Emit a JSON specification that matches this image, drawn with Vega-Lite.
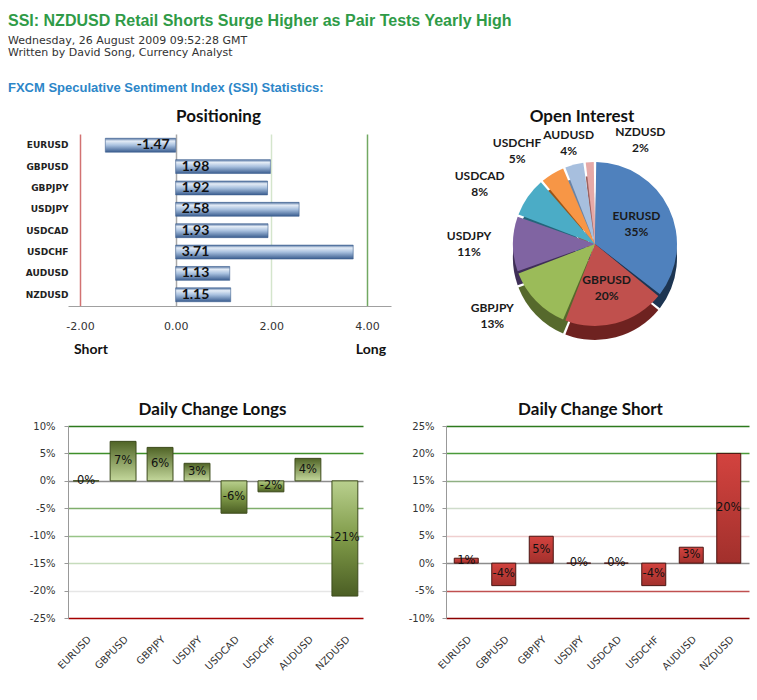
{
  "$schema": "https://vega.github.io/schema/vega-lite/v6.json",
  "background": "white",
  "padding": {"left": 8, "top": 13, "right": 4, "bottom": 4},
  "title": {
    "text": "SSI: NZDUSD Retail Shorts Surge Higher as Pair Tests Yearly High",
    "subtitle": ["Wednesday, 26 August 2009 09:52:28 GMT", "Written by David Song, Currency Analyst"],
    "anchor": "start",
    "font": "Liberation Sans", "fontSize": 16, "fontWeight": "bold", "color": "#2f9b47",
    "subtitleFont": "DejaVu Sans", "subtitleFontSize": 11, "subtitleColor": "#333333",
    "subtitlePadding": 6, "subtitleLineHeight": 12,
    "offset": 24
  },
  "config": {
    "view": {"stroke": null},
    "locale": {"number": {"decimal": ".", "thousands": ",", "grouping": [3], "currency": ["$", ""], "minus": "-"}},
    "title": {"font": "Lato", "fontSize": 17, "fontWeight": "bold", "color": "#111111", "offset": 8},
    "axis": {"labelFont": "DejaVu Sans", "labelFontSize": 10, "labelColor": "#333333", "domainColor": "#999999", "ticks": false}
  },
  "spacing": 42,
  "align": "none",
  "vconcat": [
    {
      "title": {"text": "FXCM Speculative Sentiment Index (SSI) Statistics:", "anchor": "start", "font": "Liberation Sans", "fontSize": 13, "fontWeight": "bold", "color": "#2c86c8", "offset": 13},
      "spacing": 49,
      "hconcat": [
        {
          "title": {"text": "Positioning", "dx": -11},
          "width": 323, "height": 172,
          "data": {"values": [
            {"pair": "EURUSD", "ratio": -1.47},
            {"pair": "GBPUSD", "ratio": 1.98},
            {"pair": "GBPJPY", "ratio": 1.92},
            {"pair": "USDJPY", "ratio": 2.58},
            {"pair": "USDCAD", "ratio": 1.93},
            {"pair": "USDCHF", "ratio": 3.71},
            {"pair": "AUDUSD", "ratio": 1.13},
            {"pair": "NZDUSD", "ratio": 1.15}
          ]},
          "encoding": {
            "y": {"field": "pair", "type": "nominal", "sort": null,
                  "scale": {"paddingInner": 0.35, "paddingOuter": 0.2},
                  "axis": {"title": null, "labelFont": "DejaVu Sans", "labelFontWeight": "bold", "labelFontSize": 9, "labelColor": "#222222", "labelPadding": 0, "minExtent": 60, "domain": false, "ticks": false}}
          },
          "layer": [
            {
              "mark": {"type": "bar", "stroke": "#3f6190", "strokeWidth": 0.6,
                       "color": {"gradient": "linear", "x1": 0, "y1": 0, "x2": 0, "y2": 1,
                                 "stops": [{"offset": 0, "color": "#4d6f9e"}, {"offset": 0.2, "color": "#e4ecf6"}, {"offset": 0.5, "color": "#a9c1df"}, {"offset": 1, "color": "#3a5d8f"}]}},
              "encoding": {
                "x": {"field": "ratio", "type": "quantitative",
                      "scale": {"domain": [-2.25, 4.5], "nice": false, "zero": false},
                      "axis": {"title": null, "values": [-2, 0, 2, 4], "format": ".2f", "grid": true, "gridWidth": 1.5,
                               "gridColor": {"condition": [
                                 {"test": "datum.value === -2", "value": "#d27272"},
                                 {"test": "datum.value === 0", "value": "#a8a8a8"},
                                 {"test": "datum.value === 4", "value": "#72a862"}
                               ], "value": "#d4e5cc"},
                               "labelFontSize": 11, "labelPadding": 14, "labelFlush": false, "labelOverlap": false, "domainColor": "#a0a0a0"}}
              }
            },
            {
              "mark": {"type": "rule", "opacity": 0},
              "encoding": {
                "x": {"datum": 0, "type": "quantitative",
                      "axis": {"title": null, "orient": "bottom", "values": [-1.78, 4.07],
                               "labelExpr": "datum.value < 0 ? 'Short' : 'Long'",
                               "domain": false, "grid": false, "ticks": false,
                               "labelFont": "Lato", "labelFontWeight": "bold", "labelFontSize": 14, "labelColor": "#111111",
                               "labelPadding": 36, "labelFlush": false, "labelOverlap": false}}
              }
            },
            {
              "transform": [{"filter": "datum.ratio >= 0"}],
              "mark": {"type": "text", "align": "left", "dx": 6, "font": "Lato", "fontWeight": "bold", "fontSize": 14, "color": "#111111"},
              "encoding": {"x": {"datum": 0, "type": "quantitative", "axis": null}, "text": {"field": "ratio", "format": ".2f"}}
            },
            {
              "transform": [{"filter": "datum.ratio < 0"}],
              "mark": {"type": "text", "align": "right", "dx": -6, "font": "Lato", "fontWeight": "bold", "fontSize": 14, "color": "#111111"},
              "encoding": {"x": {"datum": 0, "type": "quantitative", "axis": null}, "text": {"field": "ratio", "format": ".2f"}}
            }
          ],
          "resolve": {"axis": {"x": "independent"}}
        },
        {
          "title": {"text": "Open Interest", "offset": 0, "dx": -13},
          "width": 310, "height": 220,
          "data": {"values": [
            {"pair": "EURUSD", "share": 0.35},
            {"pair": "GBPUSD", "share": 0.20},
            {"pair": "GBPJPY", "share": 0.13},
            {"pair": "USDJPY", "share": 0.11},
            {"pair": "USDCAD", "share": 0.08},
            {"pair": "USDCHF", "share": 0.05},
            {"pair": "AUDUSD", "share": 0.04},
            {"pair": "NZDUSD", "share": 0.02}
          ]},
          "encoding": {
            "theta": {"field": "share", "type": "quantitative", "stack": true},
            "order": {"field": "share", "sort": "descending"}
          },
          "layer": [
            {
              "mark": {"type": "arc", "radius": 82, "padAngle": 0.03, "yOffset": 14},
              "encoding": {"color": {"field": "pair", "type": "nominal", "legend": null,
                "scale": {"domain": ["EURUSD", "GBPUSD", "GBPJPY", "USDJPY", "USDCAD", "USDCHF", "AUDUSD", "NZDUSD"],
                          "range": ["#1d3552", "#6e2220", "#56692c", "#3f2f57", "#24657a", "#9a5518", "#6a84a6", "#9c6260"]}}}
            },
            {
              "mark": {"type": "arc", "radius": 82, "padAngle": 0.03},
              "encoding": {"color": {"field": "pair", "type": "nominal", "legend": null,
                "scale": {"domain": ["EURUSD", "GBPUSD", "GBPJPY", "USDJPY", "USDCAD", "USDCHF", "AUDUSD", "NZDUSD"],
                          "range": ["#4f81bd", "#c0504d", "#9bbb59", "#8064a2", "#4bacc6", "#f79646", "#a7bfde", "#e6a9a7"]}}}
            },
            {
              "mark": {"type": "text", "radius": 46, "dy": -8, "font": "Lato", "fontWeight": "bold", "fontSize": 12, "color": "#1a1a1a"},
              "encoding": {"text": {"field": "pair"}, "opacity": {"condition": {"test": "datum.share >= 0.2", "value": 1}, "value": 0}}
            },
            {
              "mark": {"type": "text", "radius": 46, "dy": 8, "font": "Lato", "fontWeight": "bold", "fontSize": 12, "color": "#1a1a1a"},
              "encoding": {"text": {"field": "share", "format": ".0%"}, "opacity": {"condition": {"test": "datum.share >= 0.2", "value": 1}, "value": 0}}
            },
            {
              "mark": {"type": "text", "radius": 104,
                       "dy": {"expr": "datum.pair === 'USDCHF' ? -12 : -8"},
                       "dx": {"expr": "datum.pair === 'NZDUSD' ? 52 : datum.pair === 'USDCHF' ? -24 : datum.pair === 'USDCAD' ? -30 : datum.pair === 'USDJPY' ? -22 : datum.pair === 'GBPJPY' ? -28 : 0"},
                       "font": "Lato", "fontWeight": "bold", "fontSize": 12, "color": "#1a1a1a"},
              "encoding": {"text": {"field": "pair"}, "opacity": {"condition": {"test": "datum.share < 0.2", "value": 1}, "value": 0}}
            },
            {
              "mark": {"type": "text", "radius": 104,
                       "dy": {"expr": "datum.pair === 'USDCHF' ? 4 : 8"},
                       "dx": {"expr": "datum.pair === 'NZDUSD' ? 52 : datum.pair === 'USDCHF' ? -24 : datum.pair === 'USDCAD' ? -30 : datum.pair === 'USDJPY' ? -22 : datum.pair === 'GBPJPY' ? -28 : 0"},
                       "font": "Lato", "fontWeight": "bold", "fontSize": 12, "color": "#1a1a1a"},
              "encoding": {"text": {"field": "share", "format": ".0%"}, "opacity": {"condition": {"test": "datum.share < 0.2", "value": 1}, "value": 0}}
            }
          ],
          "resolve": {"scale": {"color": "independent"}}
        }
      ]
    },
    {
      "spacing": 45,
      "hconcat": [
        {
          "title": {"text": "Daily Change Longs", "offset": 2, "dx": -3},
          "width": 295, "height": 192,
          "data": {"values": [
            {"pair": "EURUSD", "change": 0},
            {"pair": "GBPUSD", "change": 0.072},
            {"pair": "GBPJPY", "change": 0.061},
            {"pair": "USDJPY", "change": 0.032},
            {"pair": "USDCAD", "change": -0.059},
            {"pair": "USDCHF", "change": -0.02},
            {"pair": "AUDUSD", "change": 0.041},
            {"pair": "NZDUSD", "change": -0.21}
          ]},
          "encoding": {
            "x": {"field": "pair", "type": "nominal", "sort": null,
                  "scale": {"paddingInner": 0.3, "paddingOuter": 0.14},
                  "axis": {"title": null, "labelAngle": -45, "labelFontSize": 10, "labelColor": "#333333", "labelPadding": 16, "domain": false, "ticks": false}}
          },
          "layer": [
            {
              "mark": {"type": "bar", "stroke": "#3d4b1c", "strokeWidth": 1},
              "encoding": {
                "y": {"field": "change", "type": "quantitative",
                      "scale": {"domain": [-0.25, 0.1], "nice": false},
                      "axis": {"title": null, "values": [-0.25, -0.2, -0.15, -0.1, -0.05, 0, 0.05, 0.1], "format": ".0%",
                               "grid": true, "gridWidth": 1.3,
                               "gridColor": {"condition": [
                                 {"test": "abs(datum.value - 0.1) < 1e-6", "value": "#2d7a1e"},
                                 {"test": "abs(datum.value - 0.05) < 1e-6", "value": "#3f8f2a"},
                                 {"test": "abs(datum.value) < 1e-6", "value": "#8c8c8c"},
                                 {"test": "abs(datum.value + 0.05) < 1e-6", "value": "#7fae6c"},
                                 {"test": "abs(datum.value + 0.1) < 1e-6", "value": "#98c487"},
                                 {"test": "abs(datum.value + 0.15) < 1e-6", "value": "#c6dcbc"},
                                 {"test": "abs(datum.value + 0.2) < 1e-6", "value": "#e6e6e6"}
                               ], "value": "#a50000"},
                               "domainColor": "#999999", "ticks": true, "tickSize": 4, "tickColor": "#999999",
                               "labelFontSize": 10, "labelPadding": 9, "minExtent": 40}},
                "color": {"condition": {"test": "datum.change >= 0",
                            "value": {"gradient": "linear", "x1": 0, "y1": 0, "x2": 0, "y2": 1, "stops": [{"offset": 0, "color": "#506426"}, {"offset": 1, "color": "#c4d89c"}]}},
                          "value": {"gradient": "linear", "x1": 0, "y1": 0, "x2": 0, "y2": 1, "stops": [{"offset": 0, "color": "#b9d08e"}, {"offset": 0.5, "color": "#7f9a48"}, {"offset": 1, "color": "#4b5e24"}]}}
              }
            },
            {
              "mark": {"type": "text", "font": "DejaVu Sans", "fontSize": 11.5, "color": "#111111"},
              "encoding": {
                "y": {"field": "change", "type": "quantitative", "scale": {"domain": [-0.5, 0.2], "nice": false}, "axis": null},
                "text": {"field": "change", "format": ".0%"}
              }
            }
          ],
          "resolve": {"scale": {"y": "independent"}}
        },
        {
          "title": {"text": "Daily Change Short", "offset": 2, "dx": -7},
          "width": 303, "height": 192,
          "data": {"values": [
            {"pair": "EURUSD", "change": 0.009},
            {"pair": "GBPUSD", "change": -0.041},
            {"pair": "GBPJPY", "change": 0.049},
            {"pair": "USDJPY", "change": 0},
            {"pair": "USDCAD", "change": 0},
            {"pair": "USDCHF", "change": -0.041},
            {"pair": "AUDUSD", "change": 0.029},
            {"pair": "NZDUSD", "change": 0.2}
          ]},
          "encoding": {
            "x": {"field": "pair", "type": "nominal", "sort": null,
                  "scale": {"paddingInner": 0.36, "paddingOuter": 0.22},
                  "axis": {"title": null, "labelAngle": -45, "labelFontSize": 10, "labelColor": "#333333", "labelPadding": 16, "domain": false, "ticks": false}}
          },
          "layer": [
            {
              "mark": {"type": "bar", "stroke": "#4a1512", "strokeWidth": 1,
                       "color": {"gradient": "linear", "x1": 0, "y1": 0, "x2": 0, "y2": 1, "stops": [{"offset": 0, "color": "#d3433f"}, {"offset": 1, "color": "#a2302c"}]}},
              "encoding": {
                "y": {"field": "change", "type": "quantitative",
                      "scale": {"domain": [-0.1, 0.25], "nice": false},
                      "axis": {"title": null, "values": [-0.1, -0.05, 0, 0.05, 0.1, 0.15, 0.2, 0.25], "format": ".0%",
                               "grid": true, "gridWidth": 1.3,
                               "gridColor": {"condition": [
                                 {"test": "abs(datum.value - 0.25) < 1e-6", "value": "#2d7a1e"},
                                 {"test": "abs(datum.value - 0.2) < 1e-6", "value": "#4a9a3a"},
                                 {"test": "abs(datum.value - 0.15) < 1e-6", "value": "#8fb083"},
                                 {"test": "abs(datum.value - 0.1) < 1e-6", "value": "#cfdccb"},
                                 {"test": "abs(datum.value - 0.05) < 1e-6", "value": "#efcfcf"},
                                 {"test": "abs(datum.value) < 1e-6", "value": "#8c8c8c"},
                                 {"test": "abs(datum.value + 0.05) < 1e-6", "value": "#c05050"}
                               ], "value": "#8b0000"},
                               "domainColor": "#999999", "ticks": true, "tickSize": 4, "tickColor": "#999999",
                               "labelFontSize": 10, "labelPadding": 8, "minExtent": 36}}
              }
            },
            {
              "mark": {"type": "text", "font": "DejaVu Sans", "fontSize": 11.5, "color": "#111111"},
              "encoding": {
                "y": {"field": "change", "type": "quantitative", "scale": {"domain": [-0.2, 0.5], "nice": false}, "axis": null},
                "text": {"field": "change", "format": ".0%"}
              }
            }
          ],
          "resolve": {"scale": {"y": "independent"}}
        }
      ]
    }
  ]
}
